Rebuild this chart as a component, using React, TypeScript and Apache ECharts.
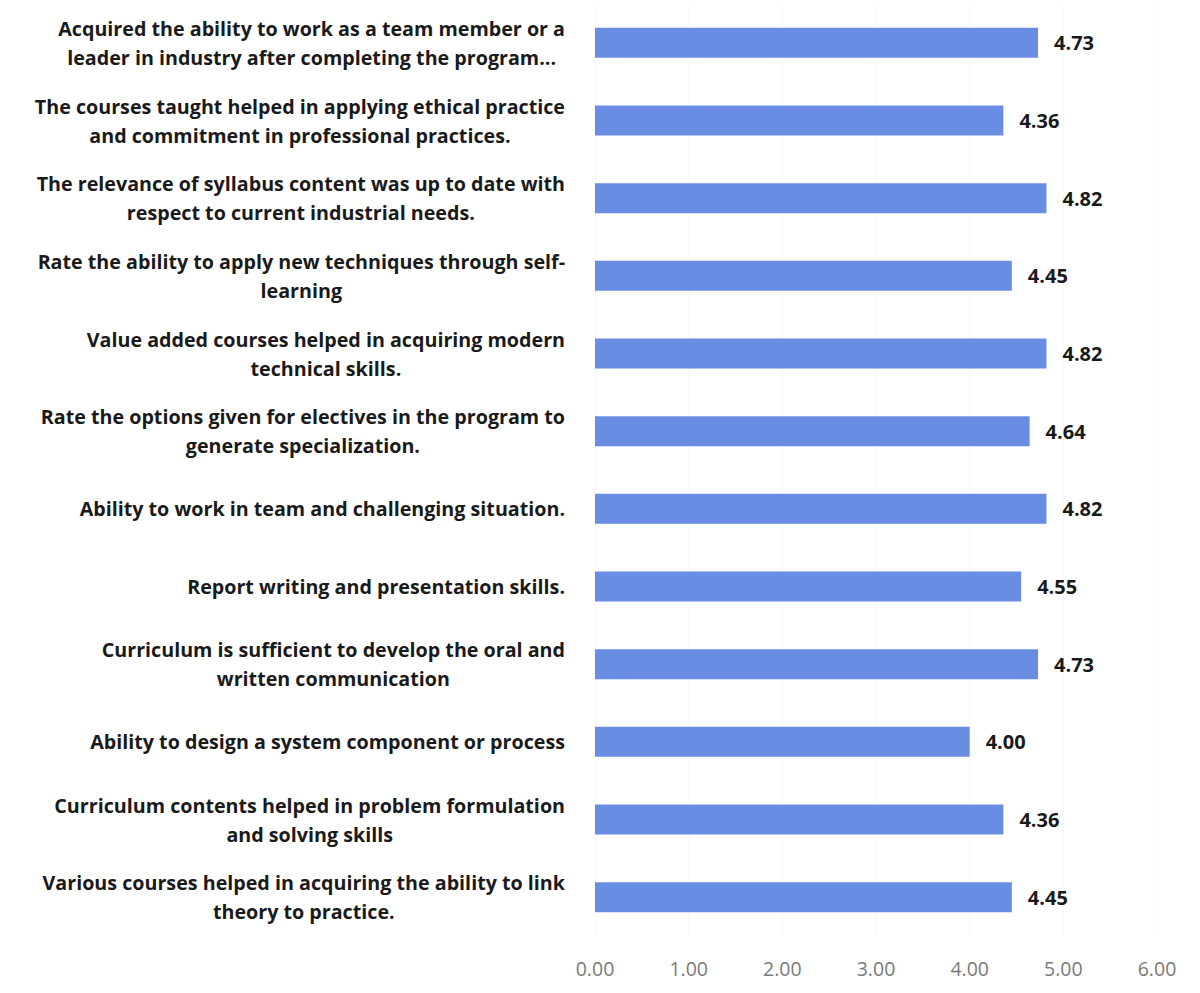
import React, { useEffect, useRef } from "react";
import * as echarts from "echarts";

const categories: string[] = [
  "Acquired the ability to work as a team member or a\nleader in industry after completing the program...",
  "The courses taught helped in applying ethical practice\nand commitment in professional practices.",
  "The relevance of syllabus content was up to date with\nrespect to current industrial needs.",
  "Rate the ability to apply new techniques through self-\nlearning",
  "Value added courses helped in acquiring modern\ntechnical skills.",
  "Rate the options given for electives in the program to\ngenerate specialization.",
  "Ability to work in team and challenging situation.",
  "Report writing and presentation skills.",
  "Curriculum is sufficient to develop the oral and\nwritten communication",
  "Ability to design a system component or process",
  "Curriculum contents helped in problem formulation\nand solving skills",
  "Various courses helped in acquiring the ability to link\ntheory to practice.",
];

const values: number[] = [4.73, 4.36, 4.82, 4.45, 4.82, 4.64, 4.82, 4.55, 4.73, 4.0, 4.36, 4.45];

const xTicks: number[] = [0, 1, 2, 3, 4, 5, 6];

const FONT = "'Open Sans', 'Noto Sans', sans-serif";

export default function App() {
  const ref = useRef<HTMLDivElement>(null);
  useEffect(() => {
    if (!ref.current) return;
    const chart = echarts.init(ref.current, undefined, { renderer: "svg" });
    chart.setOption({
      animation: false,
      backgroundColor: "#ffffff",
      grid: { left: 595, right: 43, top: 4, bottom: 57, containLabel: false },
      xAxis: {
        type: "value",
        min: xTicks[0],
        max: xTicks[xTicks.length - 1],
        interval: 1,
        axisLine: { show: false },
        axisTick: { show: false },
        splitLine: { show: true, lineStyle: { color: "#f8f8f8", width: 1 } },
        axisLabel: {
          formatter: (v: number) => v.toFixed(2),
          color: "#7a7a7a",
          fontFamily: FONT,
          fontSize: 19.5,
          margin: 22,
        },
      },
      yAxis: {
        type: "category",
        inverse: true,
        data: categories,
        axisLine: { show: false },
        axisTick: { show: false },
        axisLabel: {
          margin: 30,
          formatter: (v: string) =>
            v
              .split("\n")
              .map((l) => "{c|" + l + "}")
              .join("\n"),
          rich: {
            c: {
              align: "center",
              fontFamily: FONT,
              fontWeight: "bold",
              fontSize: 19.7,
              lineHeight: 29,
              color: "#1a1a1a",
            },
          },
        },
      },
      series: [
        {
          type: "bar",
          data: values,
          barWidth: 30,
          itemStyle: { color: "#6a8de4" },
          label: {
            show: true,
            position: "right",
            distance: 16,
            formatter: (p: any) => Number(p.value).toFixed(2),
            fontFamily: FONT,
            fontWeight: "bold",
            fontSize: 20,
            color: "#1a1a1a",
          },
        },
      ],
    });
    return () => chart.dispose();
  }, []);
  return (
    <div
      ref={ref}
      style={{ position: "absolute", left: 0, top: 0, width: 1200, height: 993 }}
    />
  );
}
